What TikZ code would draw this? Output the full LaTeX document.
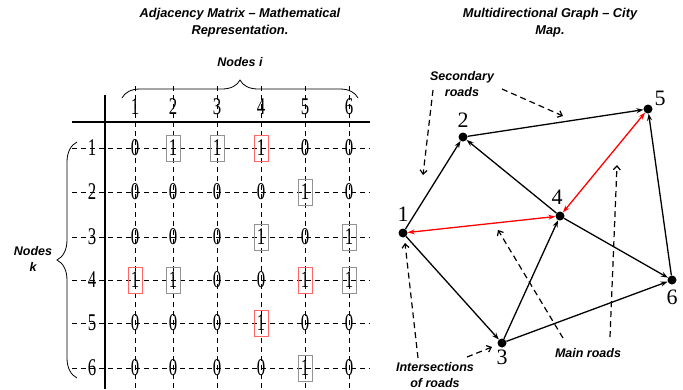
\documentclass[tikz,border=0pt]{standalone}
\usepackage{fontspec}
\setmainfont{Liberation Serif}
\setsansfont{Liberation Sans}
\newfontfamily\matfont[FakeStretch=0.7]{Liberation Serif}
\usetikzlibrary{arrows.meta,positioning,calc,decorations.pathreplacing}

\begin{document}
\begin{tikzpicture}[x=1pt,y=-1pt,
every node/.style={inner sep=0pt},
ttl/.style={font=\sffamily\bfseries\itshape\fontsize{12.8}{17}\selectfont,align=center},
note/.style={font=\sffamily\bfseries\itshape\fontsize{12.5}{16}\selectfont,align=center},
num/.style={font=\matfont\fontsize{24}{24}\selectfont},
cellz/.style={num,node contents=0},
cellg/.style={num,draw=gray!85,line width=.8pt,minimum width=14pt,minimum height=26pt,node contents=1},
cellr/.style={cellg,draw=red!60},
grid/.style={dashed,line width=.7pt,dash pattern=on 5pt off 4pt},
vtx/.style={circle,fill=black,minimum size=9pt},
lbl/.style={font=\fontsize{22}{22}\selectfont},
road/.style={-{Stealth[length=7pt,width=5pt]},line width=1.3pt},
mainroad/.style={{Stealth[length=7pt,width=5pt]}-{Stealth[length=7pt,width=5pt]},line width=1.3pt,red},
hint/.style={-{Straight Barb[length=4pt,width=7pt]},line width=1.2pt,dash pattern=on 6pt off 4pt}]
\useasboundingbox (0,0) rectangle (683,389);

% titles
\node[ttl] (t1) at (240,23) {Adjacency Matrix -- Mathematical\\Representation.};
\node[ttl] (t2) at (550,23) {Multidirectional Graph -- City\\Map.};

% matrix: grid lines
\foreach \x in {135,173,217,261,305,349}
  \draw[grid] (\x,86) -- (\x,388);
\foreach \y in {148,192,237,280,323,368}
  \draw[grid] (72,\y) -- (370,\y);
\draw[line width=1.3pt] (72,122) -- (370,122);
\draw[line width=1.3pt] (105,95) -- (105,389);

% headers
\foreach \x [count=\i] in {135,173,217,261,305,349}
  \node[num] (h\i) at (\x,107) {\i};
\foreach \y [count=\k] in {148,192,237,280,323,368}
  \node[num] (r\k) at (92,\y) {\k};

% entries
\foreach \row [count=\k] in {{cellz,cellg,cellg,cellr,cellz,cellz},
                             {cellz,cellz,cellz,cellz,cellg,cellz},
                             {cellz,cellz,cellz,cellg,cellz,cellg},
                             {cellr,cellg,cellz,cellz,cellr,cellg},
                             {cellz,cellz,cellz,cellr,cellz,cellz},
                             {cellz,cellz,cellz,cellz,cellg,cellz}}
  \foreach \c [count=\i] in \row {
    \pgfmathsetmacro{\cx}{{135,173,217,261,305,349}[\i-1]}
    \pgfmathsetmacro{\cy}{{148,192,237,280,323,368}[\k-1]}
    \node (m\k\i) at (\cx,\cy) [\c];
  }

% braces
\draw[line width=.8pt,decorate,decoration={brace,amplitude=18pt}] (122,98) -- (358,98);
\node[note] (ni) at (240,62) {Nodes i};
\draw[line width=.8pt,decorate,decoration={brace,amplitude=20pt}] (77,378) -- (77,142);
\node[note] (nk) at (33,259) {Nodes\\k};

% graph
\node[vtx] (n1) at (403,233) {};
\node[vtx] (n2) at (463,137) {};
\node[vtx] (n3) at (502,343) {};
\node[vtx] (n4) at (560,216) {};
\node[vtx] (n5) at (648,109) {};
\node[vtx] (n6) at (672,280) {};
\node[lbl,above=7pt of n1] (l1) {1};
\node[lbl,above=5pt of n2] (l2) {2};
\node[lbl,below=2pt of n3] (l3) {3};
\node[lbl,above=7pt of n4,xshift=-3pt] (l4) {4};
\node[lbl,above right=0pt and 3pt of n5] (l5) {5};
\node[lbl,below=5pt of n6] (l6) {6};

\draw[road] (n1) -- (n2);
\draw[road] (n2) -- (n5);
\draw[road] (n4) -- (n2);
\draw[road] (n1) -- (n3);
\draw[road] (n3) -- (n4);
\draw[road] (n3) -- (n6);
\draw[road] (n4) -- (n6);
\draw[road] (n6) -- (n5);
\draw[mainroad] (n1) -- (n4);
\draw[mainroad] (n4) -- (n5);

% notes
\node[note] (sec) at (462,84) {Secondary\\roads};
\node[note] (main) at (588,353) {Main roads};
\node[note] (inter) at (435,375) {Intersections\\of roads};
\coordinate (a1s) at (433,90);  \coordinate (a1e) at (423,175);
\coordinate (a2s) at (502,89);  \coordinate (a2e) at (563,116);
\coordinate (a3s) at (563,338); \coordinate (a3e) at (498,230);
\coordinate (a4s) at (610,337); \coordinate (a4e) at (617,165);
\coordinate (a5s) at (418,358); \coordinate (a5e) at (405,243);
\coordinate (a6s) at (467,357); \coordinate (a6e) at (492,347);
\draw[hint] (a1s) -- (a1e);
\draw[hint] (a2s) -- (a2e);
\draw[hint] (a3s) -- (a3e);
\draw[hint] (a4s) -- (a4e);
\draw[hint] (a5s) -- (a5e);
\draw[hint] (a6s) -- (a6e);
\end{tikzpicture}
\end{document}
